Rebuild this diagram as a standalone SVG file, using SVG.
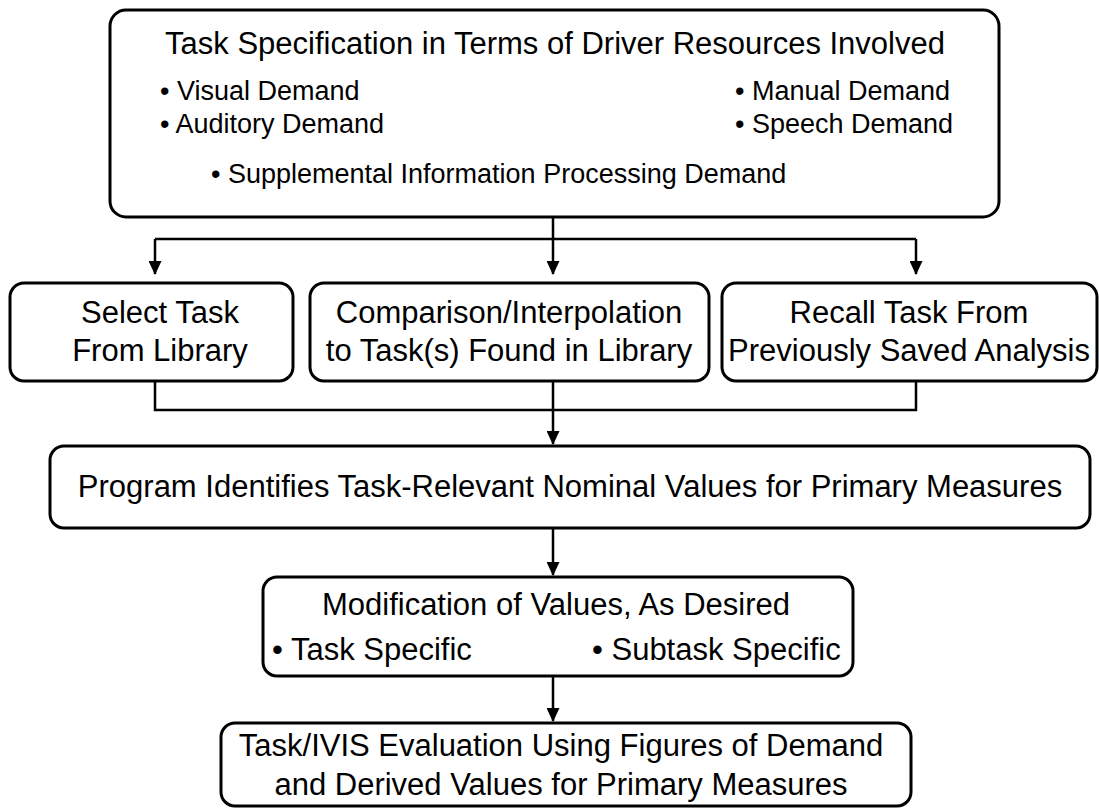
<svg xmlns="http://www.w3.org/2000/svg" width="1099" height="808" viewBox="0 0 1099 808">
<defs>
<style>
.box{fill:#fff;stroke:#000;stroke-width:3}
.t{font-family:"Liberation Sans",Arial,sans-serif;font-size:31px;fill:#000}
.b{font-family:"Liberation Sans",Arial,sans-serif;font-size:27px;fill:#000}
.c{text-anchor:middle}
.ln{fill:none;stroke:#000;stroke-width:2.5}
</style>
<marker id="ah" viewBox="0 0 14 13" refX="13" refY="6.5" markerWidth="14" markerHeight="13" markerUnits="userSpaceOnUse" orient="auto">
<path d="M0,0 L14,6.5 L0,13 Z" fill="#000"/>
</marker>
</defs>
<rect width="1099" height="808" fill="#fff"/>
<g id="connectors">
<path class="ln" d="M553,217 V239"/>
<path class="ln" d="M155,239 H916"/>
<path class="ln" d="M155,239 V274" marker-end="url(#ah)"/>
<path class="ln" d="M553,239 V274" marker-end="url(#ah)"/>
<path class="ln" d="M916,239 V274" marker-end="url(#ah)"/>
<path class="ln" d="M155,381 V410 H916 V381"/>
<path class="ln" d="M553,381 V444" marker-end="url(#ah)"/>
<path class="ln" d="M553,528 V575" marker-end="url(#ah)"/>
<path class="ln" d="M553,676 V721" marker-end="url(#ah)"/>
</g>
<g id="spec">
<rect class="box" x="110" y="10" width="889" height="207" rx="16"/>
<text class="t c" x="555" y="54">Task Specification in Terms of Driver Resources Involved</text>
<text class="b" x="160" y="100">• Visual Demand</text>
<text class="b" x="160" y="133">• Auditory Demand</text>
<text class="b" x="735" y="100">• Manual Demand</text>
<text class="b" x="735" y="133">• Speech Demand</text>
<text class="b" x="211" y="183">• Supplemental Information Processing Demand</text>
</g>
<g id="select">
<rect class="box" x="10" y="283" width="283" height="98" rx="14"/>
<text class="t c" x="160" y="323">Select Task</text>
<text class="t c" x="160" y="361">From Library</text>
</g>
<g id="compare">
<rect class="box" x="310" y="283" width="399" height="98" rx="14"/>
<text class="t c" x="509" y="323">Comparison/Interpolation</text>
<text class="t c" x="509" y="361">to Task(s) Found in Library</text>
</g>
<g id="recall">
<rect class="box" x="722" y="283" width="375" height="98" rx="14"/>
<text class="t c" x="909" y="323">Recall Task From</text>
<text class="t c" x="909" y="361">Previously Saved Analysis</text>
</g>
<g id="program">
<rect class="box" x="50" y="446" width="1040" height="82" rx="14"/>
<text class="t c" x="570" y="497">Program Identifies Task-Relevant Nominal Values for Primary Measures</text>
</g>
<g id="modify">
<rect class="box" x="263" y="577" width="590" height="99" rx="14"/>
<text class="t c" x="556" y="615">Modification of Values, As Desired</text>
<text class="t" x="272" y="660">• Task Specific</text>
<text class="t" x="592" y="660">• Subtask Specific</text>
</g>
<g id="evaluate">
<rect class="box" x="221" y="723" width="690" height="83" rx="14"/>
<text class="t c" x="561" y="756">Task/IVIS Evaluation Using Figures of Demand</text>
<text class="t c" x="561" y="795">and Derived Values for Primary Measures</text>
</g>
</svg>
